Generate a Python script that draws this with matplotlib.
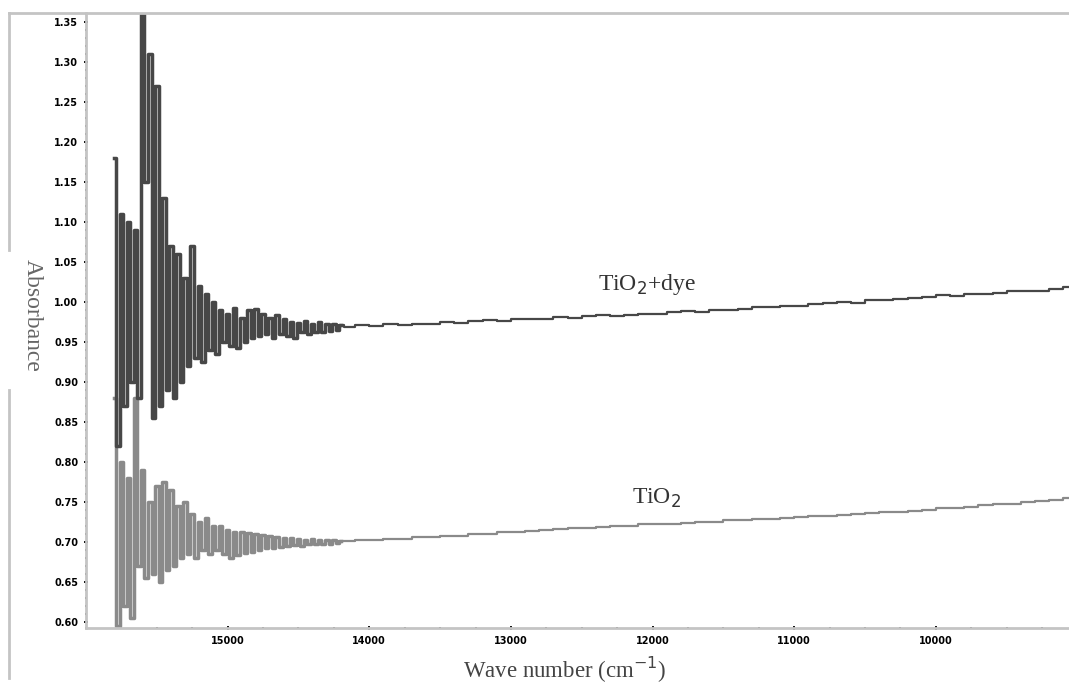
import numpy as np
import matplotlib
matplotlib.use("Agg")
import matplotlib.pyplot as plt
from matplotlib.lines import Line2D
from matplotlib.ticker import MultipleLocator, FormatStrFormatter

# ── Data ─────────────────────────────────────────────────────────────────────

# noisy region: 15800 -> 14200 cm-1, 25 cm-1 sampling
wn_noisy = np.arange(15800, 14175, -25)
dye_noisy = [1.18, 0.82, 1.11, 0.87, 1.10, 0.90, 1.09, 0.88, 1.36, 1.15,
             1.31, 0.855, 1.27, 0.87, 1.13, 0.89, 1.07, 0.88, 1.06, 0.90,
             1.03, 0.92, 1.07, 0.93, 1.02, 0.925, 1.01, 0.94, 1.00, 0.935,
             0.99, 0.95, 0.985, 0.945, 0.992, 0.942, 0.98, 0.95, 0.99, 0.955,
             0.991, 0.958, 0.985, 0.96, 0.98, 0.955, 0.983, 0.96, 0.978, 0.958,
             0.975, 0.955, 0.974, 0.962, 0.976, 0.96, 0.973, 0.962, 0.975, 0.963,
             0.972, 0.964, 0.973, 0.965, 0.971]
tio2_noisy = [0.88, 0.595, 0.80, 0.62, 0.78, 0.605, 0.88, 0.67, 0.79, 0.655,
              0.75, 0.66, 0.77, 0.65, 0.775, 0.665, 0.765, 0.67, 0.745, 0.68,
              0.75, 0.685, 0.735, 0.68, 0.725, 0.69, 0.73, 0.685, 0.72, 0.69,
              0.72, 0.685, 0.715, 0.68, 0.712, 0.684, 0.713, 0.686, 0.711, 0.688,
              0.71, 0.69, 0.709, 0.692, 0.708, 0.693, 0.706, 0.694, 0.705, 0.695,
              0.705, 0.696, 0.704, 0.695, 0.703, 0.697, 0.704, 0.698, 0.702, 0.697,
              0.702, 0.698, 0.702, 0.699, 0.701]

# flat region: 14150 -> 9050 cm-1, 100 cm-1 sampling
wn_flat = np.arange(14150, 9000, -100)
dye_flat = [0.969, 0.971, 0.970, 0.972, 0.971, 0.973, 0.973, 0.975, 0.974, 0.976,
            0.977, 0.976, 0.978, 0.979, 0.979, 0.981, 0.980, 0.982, 0.983, 0.982,
            0.984, 0.985, 0.985, 0.987, 0.988, 0.987, 0.990, 0.990, 0.991, 0.993,
            0.993, 0.995, 0.995, 0.997, 0.998, 1.000, 0.999, 1.002, 1.002, 1.003,
            1.005, 1.006, 1.008, 1.007, 1.010, 1.010, 1.011, 1.013, 1.014, 1.014,
            1.016, 1.018]
tio2_flat = [0.701, 0.702, 0.702, 0.704, 0.704, 0.706, 0.706, 0.708, 0.708, 0.710,
             0.710, 0.712, 0.713, 0.714, 0.715, 0.716, 0.717, 0.718, 0.719, 0.720,
             0.720, 0.722, 0.722, 0.723, 0.724, 0.725, 0.725, 0.727, 0.727, 0.729,
             0.729, 0.730, 0.731, 0.732, 0.733, 0.734, 0.735, 0.736, 0.737, 0.738,
             0.739, 0.740, 0.742, 0.743, 0.744, 0.746, 0.747, 0.748, 0.750, 0.751,
             0.753, 0.755]

# ── Plot ─────────────────────────────────────────────────────────────────────

fig = plt.figure(figsize=(10.69, 6.86), dpi=100)
ax = fig.add_axes([86 / 1069, 58 / 686, 1 - 86 / 1069, (628 - 13) / 686])

# noisy part thick (bars look solid), flat part thinner; both stepped
for wn_n, y_n, wn_f, y_f, col in [
        (wn_noisy, tio2_noisy, wn_flat, tio2_flat, '#8a8a8a'),
        (wn_noisy, dye_noisy, wn_flat, dye_flat, '#474747')]:
    ax.plot(wn_n, y_n, color=col, lw=2.5, drawstyle='steps-mid')
    ax.plot(np.concatenate([wn_n[-1:], wn_f]), np.concatenate([y_n[-1:], y_f]),
            color=col, lw=1.6, drawstyle='steps-mid')

ax.set_xlim(16000, 9060)
ax.set_ylim(0.5925, 1.361)

ax.set_xticks([15000, 14000, 13000, 12000, 11000, 10000])
ax.xaxis.set_minor_locator(MultipleLocator(250))
ax.set_yticks(np.round(np.arange(0.60, 1.351, 0.05), 2))
ax.yaxis.set_minor_locator(MultipleLocator(0.01))
ax.yaxis.set_major_formatter(FormatStrFormatter('%.2f'))

for s in ('top', 'right'):
    ax.spines[s].set_visible(False)
for s in ('left', 'bottom'):
    ax.spines[s].set_color('#c4c4c4')
    ax.spines[s].set_linewidth(2)

ax.tick_params(which='major', length=3, width=1.3, color='black',
               direction='inout', labelsize=7, pad=4)
ax.tick_params(which='minor', length=1.5, width=1.3, color='black',
               direction='inout')
for lab in ax.get_xticklabels() + ax.get_yticklabels():
    lab.set_fontweight('bold')

serif = ['Liberation Serif', 'DejaVu Serif']
ax.text(12040, 1.022, r'TiO$_2$+dye', family=serif, fontsize=17,
        color='#333333', ha='center', va='center')
ax.text(11970, 0.755, r'TiO$_2$', family=serif, fontsize=17,
        color='#333333', ha='center', va='center')

fig.text(565 / 1069, 1 - 670 / 686, r'Wave number (cm$^{-1}$)', family=serif,
         fontsize=16.5, color='#444444', ha='center', va='center')
fig.text(32 / 1069, 1 - 315 / 686, 'Absorbance', family=serif, fontsize=17,
         color='#666666', ha='center', va='center', rotation=-90)

# outer frame lines
fig.add_artist(Line2D([9 / 1069, 1], [1 - 13 / 686] * 2, color='#c4c4c4', lw=2))
fig.add_artist(Line2D([9 / 1069] * 2, [1 - 13 / 686, 1 - 250 / 686], color='#c4c4c4', lw=2))
fig.add_artist(Line2D([9 / 1069] * 2, [1 - 390 / 686, 1 - 678 / 686], color='#c4c4c4', lw=2))

fig.savefig('out.png', dpi=100)
